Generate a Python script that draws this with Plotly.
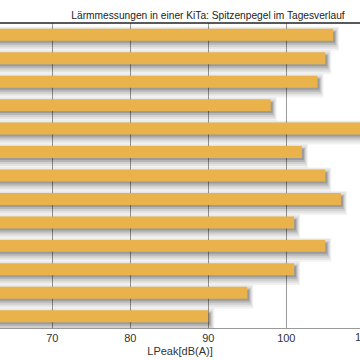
import plotly.graph_objects as go

# Data
categories = [f"Messung {i}" for i in range(1, 14)]
values = [106, 105, 104, 98, 112, 102, 105, 107, 101, 105, 101, 95, 90]
tick_vals = [70, 80, 90, 100, 110]
title_text = "Lärmmessungen in einer KiTa: Spitzenpegel im Tagesverlauf"
x_title = "LPeak[dB(A)]"

BAR_COLOR = "#EAB24A"
FONT = "Liberation Sans, Arial, sans-serif"
PX_Y = 1 / 23.5   # category units per pixel
PX_X = 10 / 78.0  # dB per pixel
BAR_W = 0.51

fig = go.Figure()

# layered soft shadows (drawn first, below bars)
shadow_layers = [
    # (alpha, top px offset, bottom px extend, right px extend)
    (0.05, -2, 10, 6),
    (0.06, -1, 8, 5),
    (0.08, 1, 6, 4),
    (0.12, 2, 4, 3),
    (0.15, 3, 2, 2),
]
for alpha, top_px, bot_px, right_px in shadow_layers:
    off = -BAR_W / 2 + top_px * PX_Y
    width = BAR_W + bot_px * PX_Y - top_px * PX_Y
    fig.add_trace(go.Bar(
        y=categories, x=[v + right_px * PX_X for v in values], orientation="h",
        offset=off, width=width,
        marker=dict(color=f"rgba(0,0,0,{alpha})", line=dict(width=0)),
        hoverinfo="skip", showlegend=False,
    ))

fig.add_trace(go.Bar(
    y=categories, x=values, orientation="h",
    offset=-BAR_W / 2, width=BAR_W,
    marker=dict(color=BAR_COLOR, line=dict(width=0)),
    showlegend=False,
))

fig.update_layout(
    width=360, height=360,
    margin=dict(l=0, r=0, t=23, b=32),
    barmode="overlay",
    paper_bgcolor="white", plot_bgcolor="white",
    font=dict(family=FONT, size=11, color="#222"),
    title=dict(text=title_text, x=208 / 360, xref="container", xanchor="center",
               y=1 - 15 / 360, yref="container", yanchor="middle",
               font=dict(family=FONT, size=10.2, color="#222")),
    xaxis=dict(range=[63.29, 109.45], tickvals=tick_vals, showgrid=True,
               gridcolor="#9a9a9a", gridwidth=1, zeroline=False,
               showline=True, linecolor="#999", linewidth=1,
               ticks="", tickfont=dict(size=11, color="#333"),
               title=dict(text=x_title, standoff=4, font=dict(size=11, color="#333")),
               mirror=False),
    yaxis=dict(type="category", range=[12.5, -0.5], showticklabels=False,
               showgrid=False, zeroline=False, showline=False, ticks=""),
    shapes=[dict(type="line", xref="paper", yref="paper", x0=0, x1=1, y0=1, y1=1,
                 line=dict(color="#222", width=1.5))],
    annotations=[dict(text="110", xref="paper", yref="paper", x=364.3 / 360, y=0,
                      yshift=-9, xanchor="center", yanchor="middle", showarrow=False,
                      font=dict(size=11, color="#333"))],
)

fig.write_html(
    "out.html",
    config={"displayModeBar": False},
    post_script="document.body.style.margin='0';document.body.style.overflow='hidden';",
)
